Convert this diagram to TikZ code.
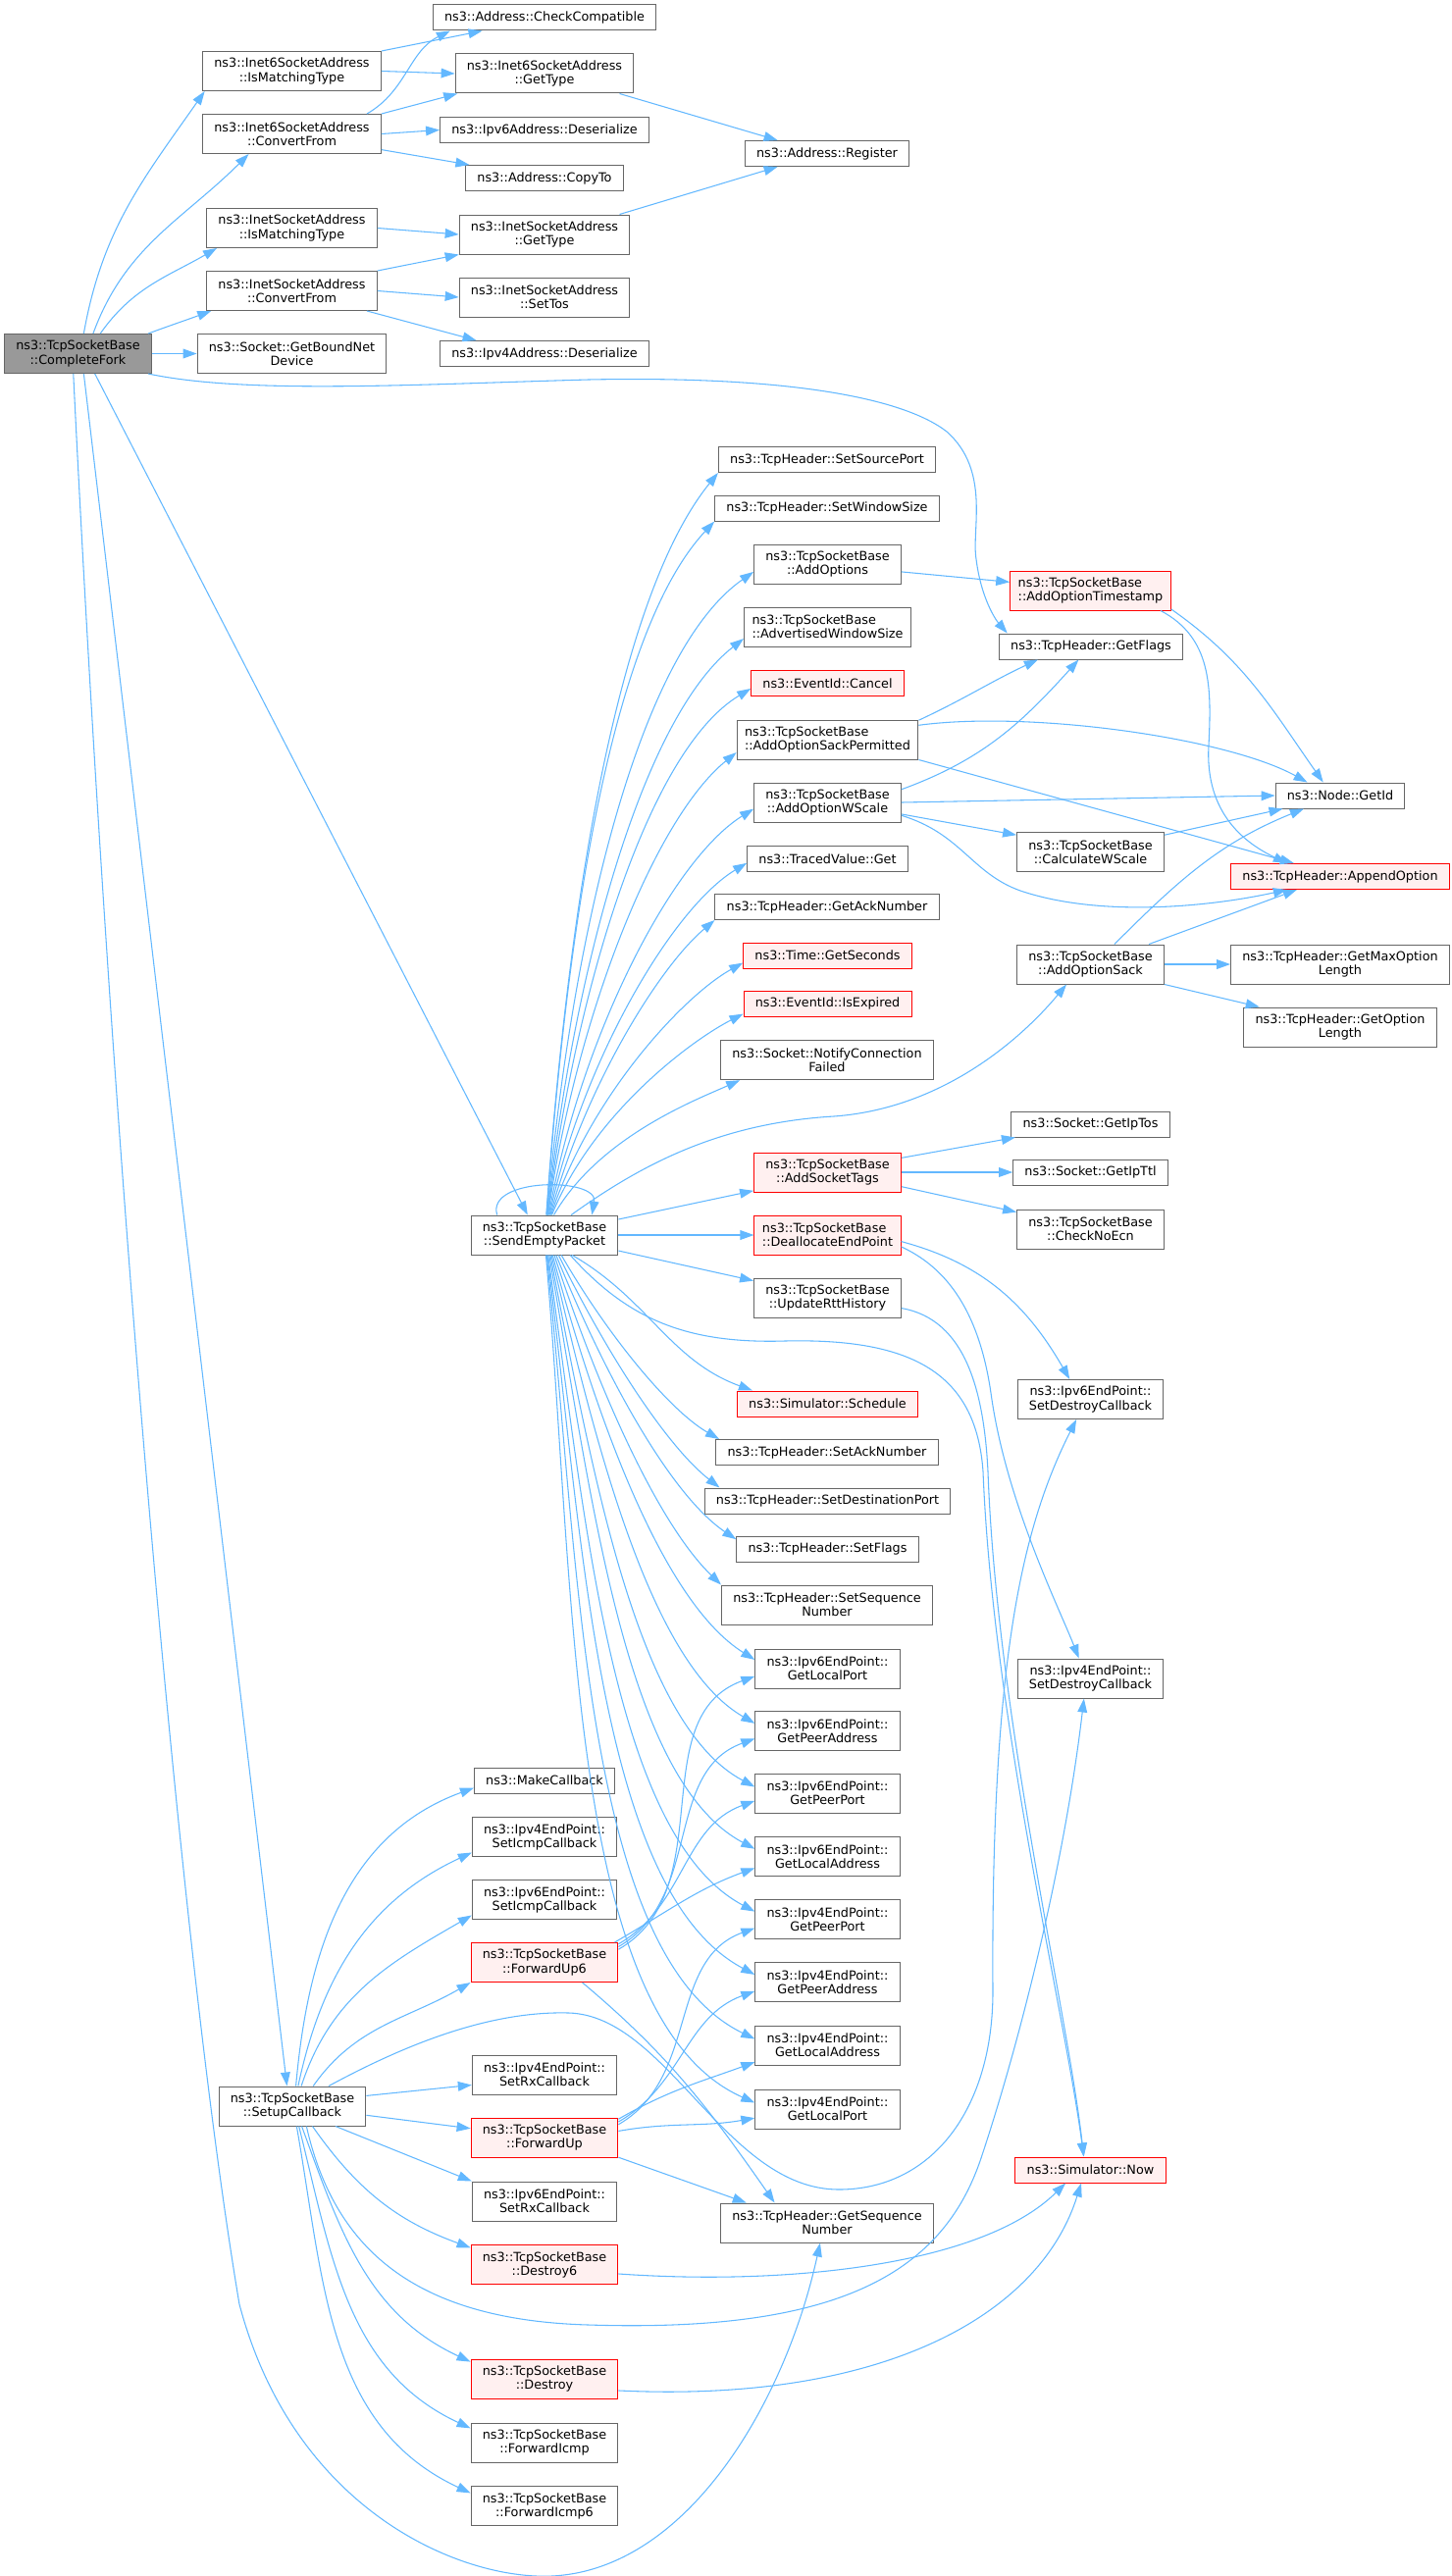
\documentclass[tikz,border=0pt]{standalone}
\usepackage{fontspec}
\setmainfont{DejaVu Sans}
\usepackage{tikz}
\usetikzlibrary{arrows.meta}

\definecolor{edgeblue}{HTML}{63B8FF}
\definecolor{boxgray}{HTML}{666666}
\definecolor{rootgray}{HTML}{999999}
\definecolor{hotfill}{HTML}{FFF0F0}

\begin{document}
\begin{tikzpicture}[x=0.75pt, y=0.75pt,
  fnbox/.style={draw=boxgray, line width=0.75pt, fill=white, align=center,
    font=\fontsize{9.6}{10.7}\selectfont, inner xsep=8.8pt, inner ysep=2pt,
    minimum height=19.5pt},
  twoline/.style={minimum height=30pt},
  lefttext/.style={align=left, inner xsep=6pt},
  hotbox/.style={fnbox, draw=red, fill=hotfill},
  rootbox/.style={fnbox, fill=rootgray},
  call/.style={draw=edgeblue, line width=0.8pt, -{Triangle[length=10.5pt,width=7.3pt]}},
  up/.style={in looseness=0.55},
  down/.style={in looseness=0.6}]
\useasboundingbox (0,0) rectangle (1479,-2626);

% caller
\node[rootbox, twoline] (cf) at (79.5,-360.5) {ns3::TcpSocketBase\\::CompleteFork};

% first level
\node[fnbox, twoline] (i6match) at (297.5,-72.5) {ns3::Inet6SocketAddress\\::IsMatchingType};
\node[fnbox, twoline] (i6conv) at (297.5,-136.5) {ns3::Inet6SocketAddress\\::ConvertFrom};
\node[fnbox, twoline] (i4match) at (297.5,-232.5) {ns3::InetSocketAddress\\::IsMatchingType};
\node[fnbox, twoline] (i4conv) at (297.5,-296.5) {ns3::InetSocketAddress\\::ConvertFrom};
\node[fnbox, twoline] (bounddev) at (297.5,-360.5) {ns3::Socket::GetBoundNet\\Device};
\node[fnbox, twoline] (setupcb) at (298,-2147) {ns3::TcpSocketBase\\::SetupCallback};

% second level
\node[fnbox] (checkcompat) at (555,-18) {ns3::Address::CheckCompatible};
\node[fnbox, twoline] (i6type) at (555,-75) {ns3::Inet6SocketAddress\\::GetType};
\node[fnbox] (v6deser) at (555,-132.5) {ns3::Ipv6Address::Deserialize};
\node[fnbox] (copyto) at (555,-181.5) {ns3::Address::CopyTo};
\node[fnbox, twoline] (i4type) at (555,-239) {ns3::InetSocketAddress\\::GetType};
\node[fnbox, twoline] (settos) at (555,-303) {ns3::InetSocketAddress\\::SetTos};
\node[fnbox] (v4deser) at (555,-360.5) {ns3::Ipv4Address::Deserialize};
\node[fnbox, twoline] (sendempty) at (555,-1259) {ns3::TcpSocketBase\\::SendEmptyPacket};
\node[fnbox] (makecb) at (555,-1815) {ns3::MakeCallback};
\node[fnbox, twoline] (v4icmpcb) at (555,-1872.7) {ns3::Ipv4EndPoint::\\SetIcmpCallback};
\node[fnbox, twoline] (v6icmpcb) at (555,-1936.7) {ns3::Ipv6EndPoint::\\SetIcmpCallback};
\node[hotbox, twoline] (fwdup6) at (555,-2000.5) {ns3::TcpSocketBase\\::ForwardUp6};
\node[fnbox, twoline] (v4rxcb) at (555,-2115) {ns3::Ipv4EndPoint::\\SetRxCallback};
\node[hotbox, twoline] (fwdup) at (555,-2179) {ns3::TcpSocketBase\\::ForwardUp};
\node[fnbox, twoline] (v6rxcb) at (555,-2244) {ns3::Ipv6EndPoint::\\SetRxCallback};
\node[hotbox, twoline] (destroy6) at (555,-2308.7) {ns3::TcpSocketBase\\::Destroy6};
\node[hotbox, twoline] (destroy) at (555,-2425) {ns3::TcpSocketBase\\::Destroy};
\node[fnbox, twoline] (fwdicmp) at (555,-2490) {ns3::TcpSocketBase\\::ForwardIcmp};
\node[fnbox, twoline] (fwdicmp6) at (555,-2554.7) {ns3::TcpSocketBase\\::ForwardIcmp6};

% third level
\node[fnbox] (register) at (843,-156.5) {ns3::Address::Register};
\node[fnbox] (srcport) at (843,-468.5) {ns3::TcpHeader::SetSourcePort};
\node[fnbox] (winsize) at (843,-518) {ns3::TcpHeader::SetWindowSize};
\node[fnbox, twoline] (addopts) at (843.5,-575) {ns3::TcpSocketBase\\::AddOptions};
\node[fnbox, twoline, lefttext] (advwin) at (843.5,-639) {ns3::TcpSocketBase\\::AdvertisedWindowSize};
\node[hotbox] (cancel) at (843.5,-696.5) {ns3::EventId::Cancel};
\node[fnbox, twoline, lefttext] (sackperm) at (843.5,-754) {ns3::TcpSocketBase\\::AddOptionSackPermitted};
\node[fnbox, twoline] (wscale) at (843.5,-818) {ns3::TcpSocketBase\\::AddOptionWScale};
\node[fnbox] (tvget) at (843.5,-875.5) {ns3::TracedValue::Get};
\node[fnbox] (getack) at (843,-924.5) {ns3::TcpHeader::GetAckNumber};
\node[hotbox] (getsec) at (843.5,-974) {ns3::Time::GetSeconds};
\node[hotbox] (isexp) at (843.5,-1023) {ns3::EventId::IsExpired};
\node[fnbox, twoline] (notify) at (843,-1080.7) {ns3::Socket::NotifyConnection\\Failed};
\node[hotbox, twoline] (socktags) at (843.5,-1195) {ns3::TcpSocketBase\\::AddSocketTags};
\node[hotbox, twoline, lefttext] (dealloc) at (843.5,-1259) {ns3::TcpSocketBase\\::DeallocateEndPoint};
\node[fnbox, twoline] (rtthist) at (843.5,-1323) {ns3::TcpSocketBase\\::UpdateRttHistory};
\node[hotbox] (schedule) at (843.5,-1431) {ns3::Simulator::Schedule};
\node[fnbox] (setack) at (843,-1480.5) {ns3::TcpHeader::SetAckNumber};
\node[fnbox] (dstport) at (843.5,-1530) {ns3::TcpHeader::SetDestinationPort};
\node[fnbox] (setflags) at (843.5,-1579) {ns3::TcpHeader::SetFlags};
\node[fnbox, twoline] (setseq) at (843,-1636) {ns3::TcpHeader::SetSequence\\Number};
\node[fnbox, twoline] (v6lport) at (843.5,-1701) {ns3::Ipv6EndPoint::\\GetLocalPort};
\node[fnbox, twoline] (v6paddr) at (843.5,-1764.6) {ns3::Ipv6EndPoint::\\GetPeerAddress};
\node[fnbox, twoline] (v6pport) at (843.5,-1828) {ns3::Ipv6EndPoint::\\GetPeerPort};
\node[fnbox, twoline] (v6laddr) at (843.5,-1892.5) {ns3::Ipv6EndPoint::\\GetLocalAddress};
\node[fnbox, twoline] (v4pport) at (843.5,-1956.4) {ns3::Ipv4EndPoint::\\GetPeerPort};
\node[fnbox, twoline] (v4paddr) at (843.5,-2020.7) {ns3::Ipv4EndPoint::\\GetPeerAddress};
\node[fnbox, twoline] (v4laddr) at (843.5,-2085) {ns3::Ipv4EndPoint::\\GetLocalAddress};
\node[fnbox, twoline] (v4lport) at (843.5,-2150) {ns3::Ipv4EndPoint::\\GetLocalPort};
\node[fnbox, twoline] (getseq) at (843,-2266) {ns3::TcpHeader::GetSequence\\Number};

% fourth level
\node[hotbox, twoline, lefttext] (optts) at (1111.5,-602) {ns3::TcpSocketBase\\::AddOptionTimestamp};
\node[fnbox] (getflags) at (1112,-659) {ns3::TcpHeader::GetFlags};
\node[fnbox, twoline] (calcws) at (1111.5,-868.6) {ns3::TcpSocketBase\\::CalculateWScale};
\node[fnbox, twoline] (optsack) at (1111.5,-983) {ns3::TcpSocketBase\\::AddOptionSack};
\node[fnbox] (iptos) at (1111.5,-1146) {ns3::Socket::GetIpTos};
\node[fnbox] (ipttl) at (1111.5,-1195) {ns3::Socket::GetIpTtl};
\node[fnbox, twoline] (noecn) at (1111.5,-1253) {ns3::TcpSocketBase\\::CheckNoEcn};
\node[fnbox, twoline] (v6destroycb) at (1111.5,-1426.5) {ns3::Ipv6EndPoint::\\SetDestroyCallback};
\node[fnbox, twoline] (v4destroycb) at (1111.5,-1711) {ns3::Ipv4EndPoint::\\SetDestroyCallback};
\node[hotbox] (simnow) at (1111.5,-2212) {ns3::Simulator::Now};

% fifth level
\node[fnbox] (nodeid) at (1366,-811) {ns3::Node::GetId};
\node[hotbox] (append) at (1366,-893.5) {ns3::TcpHeader::AppendOption};
\node[fnbox, twoline] (maxopt) at (1366,-983) {ns3::TcpHeader::GetMaxOption\\Length};
\node[fnbox, twoline] (optlen) at (1366,-1047) {ns3::TcpHeader::GetOption\\Length};

% calls of CompleteFork
\draw[call] (cf.74) to[out=80,in=235] (i6match.193);
\draw[call] (cf.53) to[out=70,in=225] (i6conv.-155);
\draw[call] (cf.42) to[out=55,in=210] (i4match.195);
\draw[call] (cf.16) to[out=20,in=200] (i4conv.194);
\draw[call] (cf.east) -- (bounddev.west);
\draw[call] (cf.-16) .. controls (250,-402) and (420,-392) .. (600,-387)
  .. controls (800,-383) and (920,-405) .. (965,-440)
  .. controls (1010,-480) and (990,-540) .. (995,-570)
  .. controls (1000,-610) and (1015,-632) .. (getflags.171);
\draw[call] (cf.-50) -- (sendempty.130);
\draw[call] (cf.-74) -- (setupcb.105);
\draw[call] (cf.-103) .. controls (115,-1200) and (185,-2000) .. (244,-2349)
  .. controls (300,-2560) and (470,-2630) .. (562,-2626)
  .. controls (700,-2620) and (800,-2450) .. (getseq.-109);

% address helpers
\draw[call] (i6match.north east) -- (checkcompat.-168);
\draw[call] (i6match.east) -- (i6type.west);
\draw[call] (i6conv.15) to[out=30,in=206] (checkcompat.-172);
\draw[call] (i6conv.north east) -- (i6type.-167);
\draw[call] (i6conv.east) -- (v6deser.west);
\draw[call] (i6conv.-10) -- (copyto.170);
\draw[call] (i4match.east) -- (i4type.west);
\draw[call] (i4conv.north east) -- (i4type.south west);
\draw[call] (i4conv.east) -- (settos.west);
\draw[call] (i4conv.-15) -- (v4deser.169);
\draw[call] (i6type.-15) -- (register.165);
\draw[call] (i4type.15) -- (register.-165);

% calls of SendEmptyPacket
\draw[call] (sendempty.157) .. controls (495,-1200) and (610,-1200) .. (sendempty.23);
\draw[call, up] (sendempty.85) to[out=86,in=231] (srcport.south west);
\draw[call, up] (sendempty.84) to[out=86,in=227] (winsize.south west);
\draw[call, up] (sendempty.83) to[out=85,in=215] (addopts.186);
\draw[call, up] (sendempty.82) to[out=84,in=218] (advwin.188);
\draw[call, up] (sendempty.81) to[out=83,in=211] (cancel.184);
\draw[call, up] (sendempty.80) to[out=82,in=219] (sackperm.188);
\draw[call, up] (sendempty.78) to[out=80,in=212] (wscale.185);
\draw[call, up] (sendempty.76) to[out=78,in=211] (tvget.183);
\draw[call, up] (sendempty.74) to[out=75,in=220] (getack.south west);
\draw[call, up] (sendempty.72) to[out=72,in=209] (getsec.185);
\draw[call, up] (sendempty.70) to[out=68,in=207] (isexp.187);
\draw[call, up] (sendempty.65) to[out=60,in=204] (notify.-167);
\draw[call] (sendempty.37) .. controls (650,-1190) and (730,-1145) .. (850,-1138)
  .. controls (960,-1130) and (1040,-1060) .. (optsack.-140);
\draw[call] (sendempty.12) -- (socktags.194);
\draw[call] (sendempty.east) -- (dealloc.west);
\draw[call] (sendempty.-12) -- (rtthist.167);
\draw[call] (sendempty.-36) to[out=-30,in=160] (schedule.170);
\draw[call] (sendempty.-38) .. controls (640,-1345) and (700,-1370) .. (800,-1367)
  .. controls (930,-1364) and (995,-1400) .. (1002,-1500)
  .. controls (1012,-1750) and (1085,-2050) .. (simnow.117);
\draw[call, down] (sendempty.-50) to[out=-60,in=150] (setack.173);
\draw[call, down] (sendempty.-55) to[out=-64,in=142] (dstport.173);
\draw[call, down] (sendempty.-60) to[out=-68,in=146] (setflags.174);
\draw[call, down] (sendempty.-64) to[out=-72,in=136] (setseq.north west);
\draw[call, down] (sendempty.-68) to[out=-75,in=148] (v6lport.173);
\draw[call, down] (sendempty.-71) to[out=-77,in=150] (v6paddr.174);
\draw[call, down] (sendempty.-74) to[out=-79,in=152] (v6pport.175);
\draw[call, down] (sendempty.-77) to[out=-80,in=152] (v6laddr.174);
\draw[call, down] (sendempty.-80) to[out=-82,in=152] (v4pport.174);
\draw[call, down] (sendempty.-82) to[out=-83,in=152] (v4paddr.174);
\draw[call, down] (sendempty.-84) to[out=-84,in=154] (v4laddr.175);
\draw[call, down] (sendempty.-86) to[out=-85,in=156] (v4lport.175);

% option helpers
\draw[call] (addopts.-6) -- (optts.174);
\draw[call] (optts.-13) to[out=-35,in=125] (nodeid.142);
\draw[call] (optts.-16) .. controls (1235,-650) and (1235,-700) .. (1232,-760)
  .. controls (1228,-830) and (1270,-860) .. (append.166);
\draw[call] (sackperm.12) to[out=25,in=205] (getflags.-166);
\draw[call] (sackperm.9) .. controls (1050,-724) and (1250,-752) .. (nodeid.158);
\draw[call] (sackperm.south east) -- (append.164);
\draw[call] (wscale.10) to[out=20,in=228] (getflags.-133);
\draw[call] (wscale.east) -- (nodeid.west);
\draw[call] (wscale.-9) -- (calcws.167);
\draw[call] (wscale.-10) .. controls (980,-850) and (990,-890) .. (1040,-908)
  .. controls (1120,-935) and (1230,-925) .. (append.-166);
\draw[call] (calcws.13) -- (nodeid.-167);
\draw[call] (optsack.40) to[out=45,in=202] (nodeid.-160);
\draw[call] (optsack.19) -- (append.-163);
\draw[call] (optsack.east) -- (maxopt.west);
\draw[call] (optsack.south east) -- (optlen.166);
\draw[call] (socktags.11) -- (iptos.-170);
\draw[call] (socktags.east) -- (ipttl.west);
\draw[call] (socktags.-11) -- (noecn.167);
\draw[call] (dealloc.-5) to[out=-15,in=120] (v6destroycb.136);
\draw[call] (dealloc.-9) .. controls (960,-1290) and (997,-1330) .. (1010,-1420)
  .. controls (1025,-1530) and (1080,-1640) .. (v4destroycb.120);
\draw[call] (rtthist.-8) .. controls (985,-1345) and (1003,-1420) .. (1007,-1500)
  .. controls (1016,-1750) and (1088,-2050) .. (simnow.117);

% calls of SetupCallback
\draw[call] (setupcb.80) to[out=85,in=200] (makecb.186);
\draw[call] (setupcb.74) to[out=78,in=205] (v4icmpcb.192);
\draw[call] (setupcb.66) to[out=72,in=210] (v6icmpcb.192);
\draw[call] (setupcb.44) to[out=55,in=210] (fwdup6.south west);
\draw[call] (setupcb.29) .. controls (430,-2075) and (510,-2050) .. (580,-2052)
  .. controls (680,-2055) and (740,-2232) .. (855,-2232)
  .. controls (950,-2232) and (1012,-2150) .. (1012,-2030)
  .. controls (1010,-1700) and (1040,-1560) .. (v6destroycb.-125);
\draw[call] (setupcb.8) -- (v4rxcb.188);
\draw[call] (setupcb.-7) -- (fwdup.173);
\draw[call] (setupcb.-25) -- (v6rxcb.north west);
\draw[call] (setupcb.-45) to[out=-55,in=160] (destroy6.167);
\draw[call] (setupcb.-55) .. controls (340,-2290) and (420,-2365) .. (600,-2370)
  .. controls (850,-2378) and (960,-2320) .. (1000,-2200)
  .. controls (1040,-2080) and (1085,-1900) .. (v4destroycb.-108);
\draw[call] (setupcb.-65) to[out=-70,in=155] (destroy.167);
\draw[call] (setupcb.-72) to[out=-76,in=155] (fwdicmp.169);
\draw[call] (setupcb.-78) to[out=-80,in=155] (fwdicmp6.170);

% forward and destroy
\draw[call] (fwdup6.10) to[out=30,in=200] (v6lport.186);
\draw[call] (fwdup6.12) to[out=30,in=200] (v6paddr.186);
\draw[call] (fwdup6.14) to[out=30,in=200] (v6pport.186);
\draw[call] (fwdup6.16) to[out=30,in=200] (v6laddr.189);
\draw[call] (fwdup6.-28) to[out=-40,in=125] (getseq.159);
\draw[call] (fwdup.10) to[out=30,in=200] (v4pport.187);
\draw[call] (fwdup.12) to[out=30,in=200] (v4paddr.187);
\draw[call] (fwdup.14) to[out=30,in=200] (v4laddr.193);
\draw[call] (fwdup.5) to[out=10,in=190] (v4lport.187);
\draw[call] (fwdup.-15) -- (getseq.166);
\draw[call] (destroy6.-7) .. controls (800,-2330) and (1000,-2310) .. (simnow.-152);
\draw[call] (destroy.-9) .. controls (900,-2450) and (1060,-2360) .. (simnow.-125);

\end{tikzpicture}
\end{document}
